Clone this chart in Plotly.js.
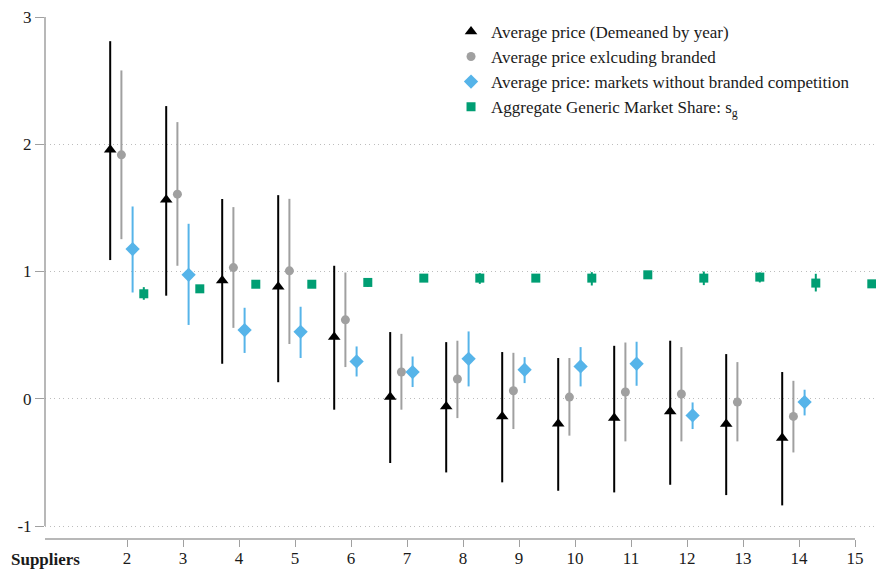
<!DOCTYPE html>
<html>
<head>
<meta charset="utf-8">
<script src="https://cdn.plot.ly/plotly-3.0.1.min.js"></script>
<style>
  html, body { margin: 0; padding: 0; background: #fff; }
  #chart { width: 876px; height: 569px; }
</style>
</head>
<body>
<div id="chart"></div>
<script>
// Number of suppliers in the market
const suppliers = [2, 3, 4, 5, 6, 7, 8, 9, 10, 11, 12, 13, 14, 15];

// Average price (demeaned by year), with 95% interval bounds
const priceAll   = [1.956, 1.563, 0.930, 0.880, 0.485, 0.013, -0.060, -0.139, -0.196, -0.152, -0.100, -0.199, -0.309, null];
const priceAllLo = [1.090, 0.810, 0.275, 0.130, -0.086, -0.505, -0.579, -0.657, -0.723, -0.736, -0.676, -0.757, -0.838, null];
const priceAllHi = [2.810, 2.300, 1.570, 1.600, 1.045, 0.524, 0.445, 0.367, 0.320, 0.416, 0.456, 0.351, 0.210, null];

// Average price excluding branded products
const priceGen   = [1.917, 1.608, 1.031, 1.005, 0.620, 0.210, 0.155, 0.063, 0.013, 0.053, 0.037, -0.026, -0.139, null];
const priceGenLo = [1.254, 1.045, 0.557, 0.430, 0.249, -0.086, -0.152, -0.238, -0.290, -0.335, -0.335, -0.335, -0.422, null];
const priceGenHi = [2.580, 2.174, 1.506, 1.571, 0.992, 0.510, 0.456, 0.361, 0.320, 0.442, 0.406, 0.288, 0.141, null];

// Average price in markets without branded competition
const priceNoBr   = [1.176, 0.974, 0.540, 0.526, 0.293, 0.210, 0.314, 0.228, 0.254, 0.275, -0.131, null, -0.026, null];
const priceNoBrLo = [0.835, 0.580, 0.360, 0.320, 0.175, 0.092, 0.097, 0.123, 0.097, 0.102, -0.238, null, -0.131, null];
const priceNoBrHi = [1.511, 1.375, 0.715, 0.723, 0.411, 0.332, 0.529, 0.327, 0.406, 0.448, -0.029, null, 0.071, null];

// Aggregate generic market share
const share   = [0.825, 0.864, 0.900, 0.900, 0.914, 0.948, 0.948, 0.948, 0.948, 0.974, 0.948, 0.956, 0.909, 0.903];
const shareLo = [0.778, 0.850, 0.895, 0.890, 0.880, 0.940, 0.903, 0.930, 0.890, 0.965, 0.893, 0.914, 0.843, 0.880];
const shareHi = [0.877, 0.880, 0.905, 0.910, 0.925, 0.955, 0.987, 0.965, 0.995, 0.983, 1.000, 0.992, 0.982, 0.930];

const seriesNames = [
  'Average price (Demeaned by year)',
  'Average price exlcuding branded',
  'Average price: markets without branded competition',
  'Aggregate Generic Market Share: s<sub>g</sub>'
];

const FONT = 'Liberation Serif, Times New Roman, serif';
const FS = 17;

function makeTrace(name, vals, lo, hi, offset, symbol, size, color) {
  return {
    type: 'scatter',
    mode: 'markers',
    name: name,
    x: suppliers.map(s => s + offset),
    y: vals,
    marker: { symbol: symbol, size: size, color: color },
    error_y: {
      type: 'data',
      symmetric: false,
      array: vals.map((v, i) => v === null ? null : hi[i] - v),
      arrayminus: vals.map((v, i) => v === null ? null : v - lo[i]),
      color: color,
      thickness: 2,
      width: 0
    },
    cliponaxis: false,
    hoverinfo: 'x+y'
  };
}

const traces = [
  makeTrace(seriesNames[0], priceAll, priceAllLo, priceAllHi, -0.3, 'triangle-up', 11, '#000000'),
  makeTrace(seriesNames[1], priceGen, priceGenLo, priceGenHi, -0.1, 'circle', 9, '#a0a0a0'),
  makeTrace(seriesNames[2], priceNoBr, priceNoBrLo, priceNoBrHi, 0.1, 'diamond', 11, '#56b4e9'),
  makeTrace(seriesNames[3], share, shareLo, shareHi, 0.3, 'square', 9, '#009e73')
];

const xMin = 2 - 82 / 56;
const layout = {
  width: 876,
  height: 569,
  margin: { l: 45, r: 0, t: 17, b: 30 },
  paper_bgcolor: '#ffffff',
  plot_bgcolor: '#ffffff',
  font: { family: FONT, size: FS, color: '#1a1a1a' },
  showlegend: true,
  legend: {
    x: 0.4886, y: 1.006, xanchor: 'left', yanchor: 'top',
    bgcolor: 'rgba(0,0,0,0)',
    font: { family: FONT, size: FS, color: '#1a1a1a' },
    tracegroupgap: 0,
    itemwidth: 30
  },
  xaxis: {
    range: [xMin, 2 + (876 - 127) / 56],
    tickvals: suppliers,
    ticktext: suppliers.map(String),
    ticks: 'outside',
    ticklen: 7,
    tickcolor: '#a0a0a0',
    tickwidth: 1,
    ticklabelstandoff: -3,
    showgrid: false,
    zeroline: false,
    showline: false,
    tickfont: { family: FONT, size: FS, color: '#1a1a1a' }
  },
  yaxis: {
    range: [-1 - 13 / 127.25, 3],
    tickvals: [-1, 0, 1, 2, 3],
    ticktext: ['-1', '0', '1', '2', '3'],
    ticks: 'outside',
    ticklen: 9,
    tickcolor: '#a0a0a0',
    tickwidth: 1,
    showgrid: true,
    gridcolor: '#bdbdbd',
    griddash: '1px,3.5px',
    gridwidth: 1,
    zeroline: false,
    showline: false,
    tickfont: { family: FONT, size: FS, color: '#1a1a1a' }
  },
  shapes: [
    // vertical axis line, spanning -1 to 3
    { type: 'line', xref: 'paper', yref: 'y', x0: 0, x1: 0, y0: -1, y1: 3,
      line: { color: '#a0a0a0', width: 1.5 } },
    // horizontal axis line, ending at the last supplier tick
    { type: 'line', xref: 'x', yref: 'paper', x0: xMin, x1: 15, y0: 0, y1: 0,
      line: { color: '#a0a0a0', width: 1.5 } }
  ],
  annotations: [
    { text: '<b>Suppliers</b>', xref: 'paper', yref: 'paper', x: 0, y: -0.04,
      xanchor: 'center', yanchor: 'middle', showarrow: false,
      font: { family: FONT, size: FS, color: '#1a1a1a' } }
  ]
};

Plotly.newPlot('chart', traces, layout, { displayModeBar: false, staticPlot: true });
</script>
</body>
</html>
